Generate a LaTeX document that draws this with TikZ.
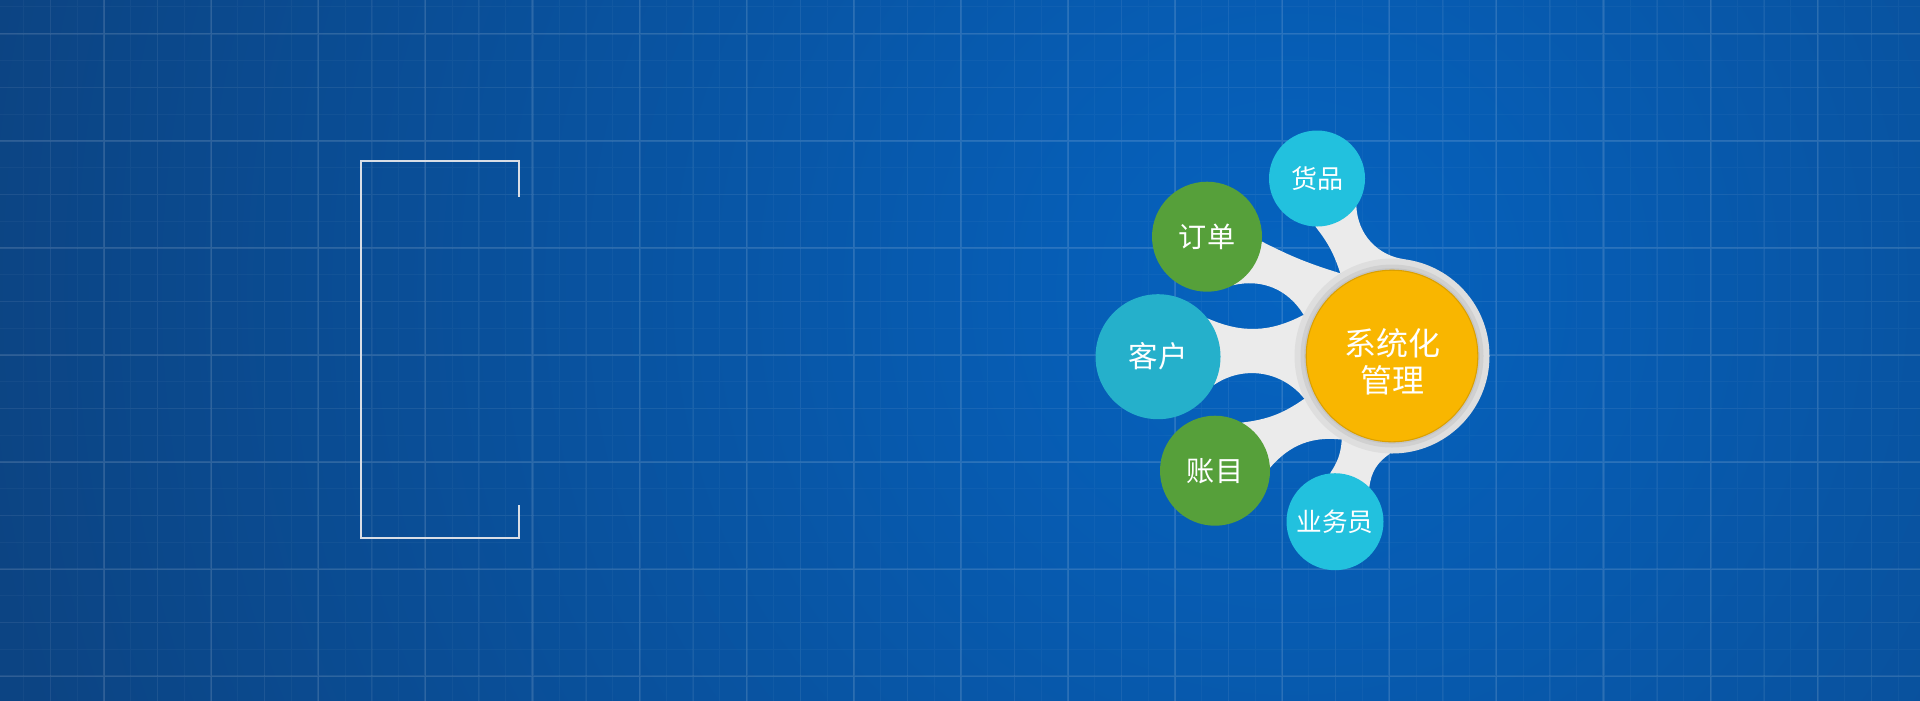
\documentclass[tikz,border=0pt]{standalone}
\usepackage{fontspec}
\newfontfamily\cjk{Noto Sans CJK SC}
\definecolor{bgdark}{HTML}{0C4483}
\definecolor{bglight}{HTML}{0563C0}
\definecolor{linkgray}{HTML}{EBEBEB}
\definecolor{ringgray}{HTML}{DEDEDE}
\definecolor{ringshade}{HTML}{C4C4C4}
\definecolor{cyanball}{HTML}{22C1DE}
\definecolor{greenball}{HTML}{56A03A}
\definecolor{tealball}{HTML}{25B0CB}
\definecolor{hubgold}{HTML}{F9B600}
\definecolor{framegray}{HTML}{D9DEE6}
\pgfdeclareradialshading{glow}{\pgfpoint{0bp}{0bp}}{color(0bp)=(bglight); color(22bp)=(bgdark); color(50bp)=(bgdark)}
\pgfdeclarelayer{bg}
\pgfdeclarelayer{links}
\pgfsetlayers{bg,links,main}

\begin{document}
\begin{tikzpicture}[
   ball/.style={circle, inner sep=0pt, outer sep=0pt, text=white},
   ringnode/.style={circle, inner sep=0pt, outer sep=0pt, fill=ringgray, minimum size=1.95cm},
   corenode/.style={ball, fill=hubgold, draw=hubgold!88!black, line width=0.3pt, minimum size=1.716cm},
   coretext/.style={text=white, align=center, inner sep=0pt, font={\cjk\fontsize{9.1}{10.4}\selectfont}},
   gridline/.style={white, line width=#1}]
\useasboundingbox (0,0) rectangle (19.2,7);

% background with grid
\begin{pgfonlayer}{bg}
\begin{scope}
\clip (0,0) rectangle (19.2,7);
\fill[bgdark] (0,0) rectangle (19.2,7);
\shade[shading=glow] (12.9,4.1) circle (15);
\begin{scope}[shift={(-0.03,6.663)}]
\draw[gridline=0.28pt, opacity=0.035, step=0.26775] (-1,-8) grid (20,1);
\draw[gridline=0.4pt, opacity=0.045, step=0.5355] (-1,-8) grid (20,1);
\draw[gridline=0.6pt, opacity=0.08, step=1.071] (-1,-8) grid (20,1);
\end{scope}
\end{scope}
\end{pgfonlayer}

% empty frame on the left
\draw[framegray, line width=0.6pt] (5.193,5.033) -- (5.193,5.39) -- (3.607,5.39)
   -- (3.607,1.617) -- (5.193,1.617) -- (5.193,1.95);

% hub and satellites
\node[ringnode] (hub) at (13.92,3.44) {};
\fill[ringshade!55!ringgray] (hub) circle (0.915);
\fill[ringshade] (hub) circle (0.878);
\node[corenode] (core) at (hub) {};
\node[coretext] (title) at ([yshift=-0.06cm]hub) {系统化\\管理};

\node[ball, fill=cyanball, minimum size=0.96cm, font={\cjk\fontsize{7.4}{8}\selectfont}] (goods) at (13.17,5.215) {货品};
\node[ball, fill=greenball, minimum size=1.1cm, font={\cjk\fontsize{8}{9}\selectfont}] (orders) at (12.07,4.633) {订单};
\node[ball, fill=tealball, minimum size=1.25cm, font={\cjk\fontsize{8.4}{9}\selectfont}] (clients) at (11.58,3.433) {客户};
\node[ball, fill=greenball, minimum size=1.1cm, font={\cjk\fontsize{8}{9}\selectfont}] (accounts) at (12.15,2.293) {账目};
\node[ball, fill=cyanball, minimum size=0.97cm, font={\cjk\fontsize{7.3}{8}\selectfont}] (sales) at (13.35,1.783) {业务员};

% grey bands to the hub
\begin{pgfonlayer}{links}
\foreach \n/\a/\sa/\c/\d/\sb/\b in {goods/268/10/122.9/82/40/325, orders/355/-5/122.9/155.6/-36/298,
   clients/38/-26/155.6/206.4/-43/333, accounts/61/-14/206.4/239/-28/3, sales/96/-15/239/269/-25/45}
{
  \fill[linkgray] (\n.\a) to[bend left=\sa] (hub.\c) -- (hub.\d) to[bend left=\sb] (\n.\b) -- cycle;
}
\end{pgfonlayer}
\end{tikzpicture}
\end{document}
